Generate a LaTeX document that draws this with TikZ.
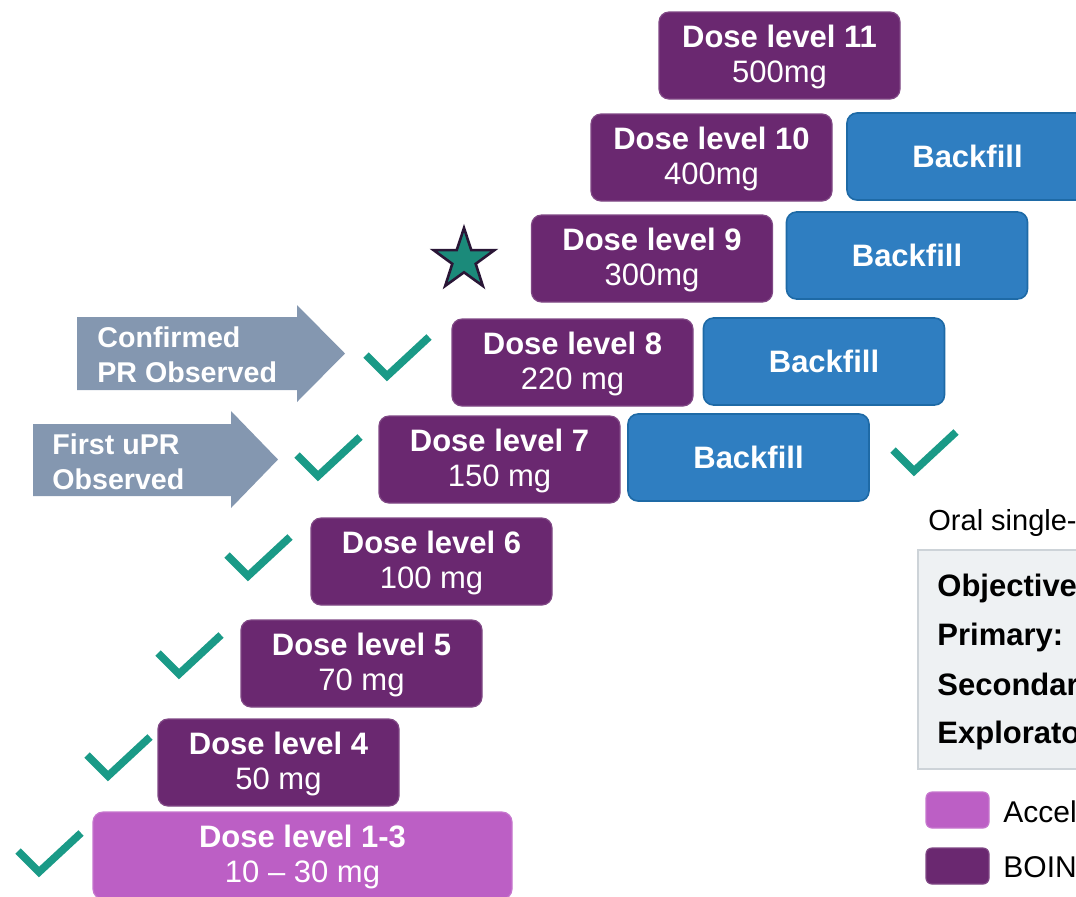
\documentclass[tikz,border=0pt]{standalone}
\usepackage{fontspec}
\setmainfont{Liberation Sans}
\usetikzlibrary{shapes.geometric}
\definecolor{dlpurple}{HTML}{6A2870}
\definecolor{accpurple}{HTML}{BC5FC5}
\definecolor{bfblue}{HTML}{2F7EC1}
\definecolor{bfborder}{HTML}{1E6AA6}
\definecolor{arrowgrey}{HTML}{8497B0}
\definecolor{checkteal}{HTML}{1A9A87}
\definecolor{starfill}{HTML}{1B8A7A}
\definecolor{staredge}{HTML}{2A1636}
\definecolor{objfill}{HTML}{EEF1F3}
\definecolor{objedge}{HTML}{CDD3D8}
\newcommand{\dlstrut}{\rule{0pt}{13pt}}
\begin{document}
\begin{tikzpicture}[x=0.5pt,y=-0.5pt,
  dlbox/.style={rounded corners=5pt, fill=dlpurple, draw=dlpurple!85!white, line width=0.6pt,
    text=white, minimum width=120.5pt, minimum height=43.5pt, inner sep=0pt, align=center,
    font=\fontsize{15.5}{17.5}\selectfont},
  accbox/.style={dlbox, fill=accpurple, draw=accpurple!85!white, minimum width=209.5pt},
  bfbox/.style={rounded corners=5pt, fill=bfblue, draw=bfborder, line width=0.8pt,
    text=white, minimum width=120.5pt, minimum height=43.5pt, inner sep=0pt,
    font=\fontsize{15.5}{17.5}\selectfont\bfseries},
  arrowshape/.style={fill=arrowgrey},
  arrowtext/.style={anchor=west, text=white, align=left, inner sep=0pt,
    font=\fontsize{14.3}{17.5}\selectfont\bfseries},
  chk/.pic={\draw[checkteal, line width=3.8pt, line join=miter] (-21,-21) -- (0,0) -- (42,-39);},
  sidetext/.style={anchor=west, inner sep=0pt, text=black},
  swatch/.style={rounded corners=3pt, minimum width=31.5pt, minimum height=18pt, inner sep=0pt, line width=0.6pt}
]
\useasboundingbox (0,0) rectangle (1076,896);
\clip (0,0) rectangle (1076,896);

% dose level boxes
\node[dlbox] (dl11) at (779.5,55.5) {\dlstrut\textbf{Dose level 11}\\500mg};
\node[dlbox] (dl10) at (711.5,157.5) {\dlstrut\textbf{Dose level 10}\\400mg};
\node[dlbox] (dl9)  at (652,258.5) {\dlstrut\textbf{Dose level 9}\\300mg};
\node[dlbox] (dl8)  at (572.5,362.5) {\dlstrut\textbf{Dose level 8}\\220 mg};
\node[dlbox] (dl7)  at (499.5,459.5) {\dlstrut\textbf{Dose level 7}\\150 mg};
\node[dlbox] (dl6)  at (431.5,561.5) {\dlstrut\textbf{Dose level 6}\\100 mg};
\node[dlbox] (dl5)  at (361.5,663.5) {\dlstrut\textbf{Dose level 5}\\70 mg};
\node[dlbox] (dl4)  at (278.5,762.5) {\dlstrut\textbf{Dose level 4}\\50 mg};
\node[accbox] (dl13) at (302.5,855.5) {\dlstrut\textbf{Dose level 1-3}\\10 – 30 mg};

% backfill boxes
\node[bfbox] (bf10) at (967.5,156.5) {Backfill};
\node[bfbox] (bf9)  at (907,255.5) {Backfill};
\node[bfbox] (bf8)  at (824,361.5) {Backfill};
\node[bfbox] (bf7)  at (748.5,457.5) {Backfill};

% star
\node[star, star points=5, star point ratio=2.6, minimum size=32pt, inner sep=0pt,
  fill=starfill, draw=staredge, line width=1.3pt] (star) at (464,260) {};

% arrows
\path[arrowshape] (77,317) -- (297,317) -- (297,305) -- (345,353.5) -- (297,402) -- (297,390) -- (77,390) -- cycle;
\node[arrowtext] (confirmed) at (97,355) {Confirmed\\PR Observed};
\path[arrowshape] (33,424) -- (231,424) -- (231,411) -- (278,459.5) -- (231,508) -- (231,496) -- (33,496) -- cycle;
\node[arrowtext] (firstupr) at (52,462) {First uPR\\Observed};

% check marks
\pic at (387,376) {chk};
\pic at (318,476) {chk};
\pic at (914,471) {chk};
\pic at (248,576) {chk};
\pic at (179,674) {chk};
\pic at (108,776) {chk};
\pic at (39,872) {chk};

% right side
\node[sidetext, font=\fontsize{14.5}{17}\selectfont] (oral) at (928,523) {Oral single-};
\node[draw=objedge, fill=objfill, line width=1pt, minimum width=90pt, minimum height=109.5pt,
  inner sep=0pt, anchor=north west] (objbox) at (917,549) {};
\node[sidetext, font=\fontsize{15.5}{17}\selectfont\bfseries] (obj) at (937,588) {Objectives};
\node[sidetext, font=\fontsize{15.5}{17}\selectfont\bfseries] (prim) at (937,637) {Primary:};
\node[sidetext, font=\fontsize{15.5}{17}\selectfont\bfseries] (sec) at (937,687) {Secondary:};
\node[sidetext, font=\fontsize{15.5}{17}\selectfont\bfseries] (expl) at (937,735) {Exploratory:};

\node[swatch, fill=accpurple, draw=accpurple!85!white] (sw1) at (957.5,810) {};
\node[sidetext, font=\fontsize{15}{17}\selectfont] (acc) at (1003,812) {Accelerated};
\node[swatch, fill=dlpurple, draw=dlpurple!85!white] (sw2) at (957.5,866) {};
\node[sidetext, font=\fontsize{15}{17}\selectfont] (boin) at (1003,867) {BOIN};
\end{tikzpicture}
\end{document}
